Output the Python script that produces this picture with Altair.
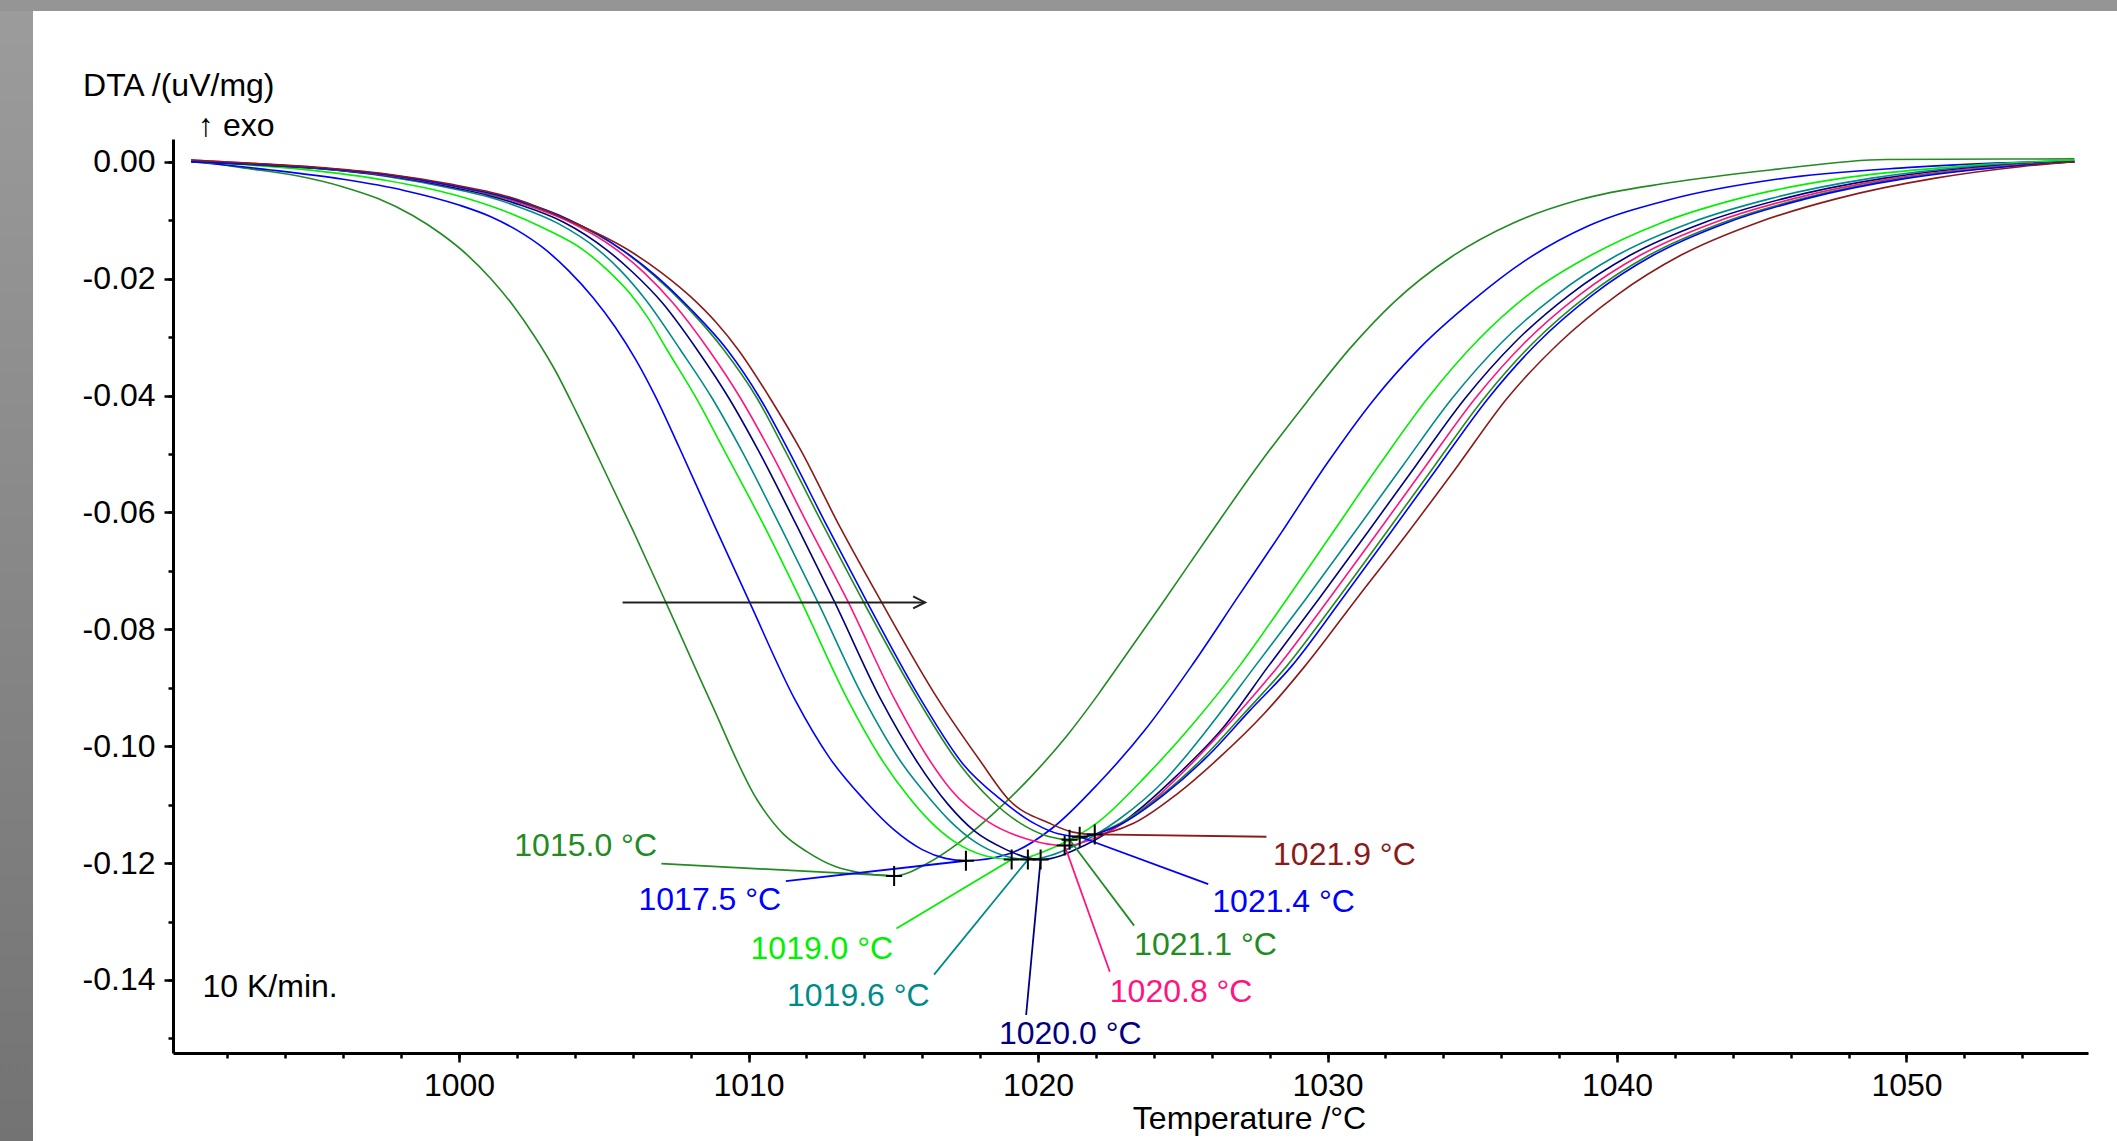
import altair as alt
import pandas as pd

FONT = "Liberation Sans"
FS = 32

# ---------------- data ----------------
SERIES = ["1015.0 °C", "1017.5 °C", "1019.0 °C", "1019.6 °C", "1020.0 °C",
          "1020.8 °C", "1021.1 °C", "1021.4 °C", "1021.9 °C"]
COLORS = ["#228B22", "#0000FF", "#00F000", "#008B8B", "#000080",
          "#FF1480", "#228B22", "#0000FF", "#8B1A1A"]

T_1015_0 = [990.75, 992.5, 994.4, 996.0, 997.2, 998.4, 999.4, 1000.3, 1001.1, 1001.9, 1002.6,
            1003.3, 1004.05, 1004.8, 1006.0, 1007.2, 1008.7, 1010.3, 1011.2, 1012.0, 1013.0, 1013.9,
            1015.0, 1016.2, 1017.0, 1018.4, 1019.8, 1021.0, 1022.1, 1022.7, 1024.3, 1025.9, 1027.6,
            1029.3, 1030.8, 1032.3, 1034.3, 1036.4, 1038.7, 1041.8, 1045.3, 1049.3, 1055.8]
D_1015_0 = [0.0003, -0.0010, -0.0024, -0.0043, -0.0063, -0.0092, -0.0124, -0.0160, -0.0200, -0.0248, -0.0298,
            -0.0355, -0.0428, -0.0505, -0.0630, -0.0760, -0.0925, -0.1092, -0.1150, -0.1180, -0.1206, -0.1217,
            -0.1222, -0.1200, -0.1175, -0.1118, -0.1050, -0.0982, -0.0910, -0.0868, -0.0755, -0.0640, -0.0520,
            -0.0410, -0.0318, -0.0240, -0.0162, -0.0105, -0.0065, -0.0036, -0.0014, 0.0004, 0.0005]

T_1017_5 = [990.75, 993.5, 996.0, 998.1, 1000.0, 1001.1, 1002.0, 1002.9, 1003.8, 1004.64, 1005.4,
            1006.1, 1006.8, 1007.6, 1008.8, 1010.04, 1011.6, 1012.8, 1014.0, 1015.0, 1016.0, 1016.8,
            1017.5, 1019.0, 1020.5, 1022.1, 1023.7, 1025.3, 1026.9, 1028.4, 1030.0, 1031.6, 1033.2,
            1035.0, 1036.8, 1039.0, 1041.8, 1045.5, 1050.0, 1055.8]
D_1017_5 = [0.0000, -0.0014, -0.0030, -0.0049, -0.0074, -0.0094, -0.0117, -0.0147, -0.0187, -0.0233, -0.0283,
            -0.0338, -0.0403, -0.0488, -0.0620, -0.0754, -0.0920, -0.1020, -0.1092, -0.1142, -0.1177, -0.1192,
            -0.1196, -0.1184, -0.1140, -0.1063, -0.0972, -0.0863, -0.0745, -0.0635, -0.0515, -0.0407, -0.0318,
            -0.0238, -0.0170, -0.0110, -0.0065, -0.0030, -0.0010, 0.0002]

T_1019_0 = [990.75, 994.6, 997.5, 999.8, 1001.5, 1002.9, 1004.3, 1005.1, 1005.9, 1006.5, 1007.19,
            1008.2, 1009.15, 1010.55, 1011.84, 1013.42, 1014.5, 1015.5, 1016.3, 1017.1, 1018.2, 1019.1,
            1020.6, 1022.1, 1023.75, 1025.3, 1027.0, 1028.6, 1030.2, 1031.8, 1033.5, 1035.2, 1037.0,
            1039.1, 1041.5, 1044.2, 1047.8, 1051.5, 1055.8]
D_1019_0 = [0.0000, -0.0013, -0.0032, -0.0056, -0.0083, -0.0113, -0.0151, -0.0184, -0.0225, -0.0265, -0.0322,
            -0.0405, -0.0493, -0.0624, -0.0754, -0.0920, -0.1015, -0.1085, -0.1130, -0.1163, -0.1188, -0.1194,
            -0.1172, -0.1129, -0.1050, -0.0965, -0.0860, -0.0748, -0.0633, -0.0518, -0.0402, -0.0305, -0.0225,
            -0.0160, -0.0105, -0.0063, -0.0028, -0.0009, 0.0003]

T_1019_6 = [990.75, 993.0, 995.0, 997.5, 999.8, 1001.0, 1002.0, 1003.4, 1004.82, 1005.6, 1006.4,
            1007.65, 1008.75, 1009.75, 1011.1, 1012.4, 1014.0, 1015.2, 1016.3, 1017.0, 1017.8, 1018.8,
            1019.65, 1021.2, 1022.8, 1024.4, 1025.9, 1027.5, 1029.25, 1030.95, 1032.6, 1034.3, 1036.0,
            1037.9, 1040.0, 1042.5, 1045.3, 1048.8, 1052.3, 1055.8]
D_1019_6 = [0.0000, -0.0005, -0.0011, -0.0025, -0.0046, -0.0060, -0.0076, -0.0105, -0.0151, -0.0187, -0.0233,
            -0.0322, -0.0405, -0.0493, -0.0624, -0.0754, -0.0920, -0.1022, -0.1092, -0.1130, -0.1163, -0.1187,
            -0.1194, -0.1172, -0.1125, -0.1057, -0.0968, -0.0863, -0.0748, -0.0633, -0.0520, -0.0405, -0.0310,
            -0.0228, -0.0160, -0.0105, -0.0063, -0.0028, -0.0008, 0.0000]

T_1020_0 = [990.75, 993.0, 995.0, 997.5, 999.8, 1001.0, 1002.0, 1003.6, 1005.11, 1006.0, 1007.0,
            1008.23, 1009.33, 1010.33, 1011.68, 1012.98, 1014.57, 1015.8, 1016.9, 1017.8, 1018.9, 1019.5,
            1020.09, 1021.6, 1023.2, 1024.8, 1026.4, 1027.96, 1029.7, 1031.4, 1033.05, 1034.75, 1036.45,
            1038.35, 1040.45, 1042.95, 1045.75, 1049.25, 1052.75, 1055.8]
D_1020_0 = [0.0000, -0.0005, -0.0011, -0.0024, -0.0044, -0.0057, -0.0072, -0.0103, -0.0151, -0.0189, -0.0240,
            -0.0322, -0.0405, -0.0493, -0.0624, -0.0754, -0.0920, -0.1025, -0.1100, -0.1145, -0.1177, -0.1189,
            -0.1194, -0.1170, -0.1120, -0.1050, -0.0968, -0.0863, -0.0748, -0.0633, -0.0520, -0.0405, -0.0310,
            -0.0228, -0.0160, -0.0105, -0.0063, -0.0028, -0.0008, 0.0000]

T_1020_8 = [990.75, 993.0, 995.0, 997.5, 999.8, 1001.0, 1002.0, 1003.7, 1005.46, 1006.4, 1007.4,
            1008.63, 1009.73, 1010.73, 1012.08, 1013.45, 1015.05, 1016.1, 1017.0, 1018.3, 1019.7, 1020.92,
            1022.3, 1023.8, 1025.3, 1026.8, 1028.3, 1030.05, 1031.75, 1033.4, 1035.1, 1036.8, 1038.7,
            1040.8, 1043.3, 1046.1, 1049.6, 1053.1, 1055.8]
D_1020_8 = [0.0003, -0.0003, -0.0010, -0.0023, -0.0042, -0.0055, -0.0069, -0.0100, -0.0151, -0.0190, -0.0242,
            -0.0322, -0.0405, -0.0493, -0.0624, -0.0754, -0.0920, -0.1012, -0.1075, -0.1130, -0.1160, -0.1170,
            -0.1150, -0.1100, -0.1030, -0.0950, -0.0863, -0.0748, -0.0633, -0.0520, -0.0405, -0.0310, -0.0228,
            -0.0160, -0.0105, -0.0063, -0.0028, -0.0008, 0.0000]

T_1021_1 = [990.75, 993.0, 995.0, 997.5, 999.8, 1001.0, 1002.0, 1003.8, 1005.63, 1006.7, 1007.9,
            1009.15, 1010.3, 1011.25, 1012.6, 1013.98, 1015.85, 1017.2, 1018.38, 1019.6, 1020.4, 1021.09,
            1022.5, 1024.1, 1025.6, 1027.1, 1028.59, 1030.35, 1032.05, 1033.7, 1035.4, 1037.1, 1039.0,
            1041.1, 1043.6, 1046.4, 1049.9, 1053.4, 1055.8]
D_1021_1 = [0.0002, -0.0004, -0.0010, -0.0022, -0.0041, -0.0054, -0.0067, -0.0100, -0.0151, -0.0193, -0.0250,
            -0.0322, -0.0405, -0.0493, -0.0624, -0.0754, -0.0920, -0.1025, -0.1092, -0.1138, -0.1155, -0.1160,
            -0.1140, -0.1090, -0.1025, -0.0945, -0.0863, -0.0748, -0.0633, -0.0520, -0.0405, -0.0310, -0.0228,
            -0.0160, -0.0105, -0.0063, -0.0028, -0.0008, 0.0000]

T_1021_4 = [990.75, 993.0, 995.0, 997.5, 999.8, 1001.0, 1002.0, 1003.8, 1005.65, 1006.75, 1008.0,
            1009.27, 1010.4, 1011.37, 1012.72, 1014.1, 1015.95, 1017.4, 1018.73, 1019.9, 1020.7, 1021.44,
            1022.8, 1024.3, 1025.8, 1027.3, 1028.76, 1030.5, 1032.2, 1033.85, 1035.55, 1037.25, 1039.15,
            1041.25, 1043.75, 1046.55, 1050.05, 1053.55, 1055.8]
D_1021_4 = [0.0000, -0.0004, -0.0010, -0.0022, -0.0041, -0.0053, -0.0066, -0.0099, -0.0151, -0.0193, -0.0252,
            -0.0322, -0.0405, -0.0493, -0.0624, -0.0754, -0.0920, -0.1030, -0.1092, -0.1133, -0.1150, -0.1155,
            -0.1135, -0.1085, -0.1020, -0.0940, -0.0863, -0.0748, -0.0633, -0.0520, -0.0405, -0.0310, -0.0228,
            -0.0160, -0.0105, -0.0063, -0.0028, -0.0008, 0.0000]

T_1021_9 = [990.75, 993.0, 995.0, 997.5, 999.8, 1001.0, 1002.0, 1003.5, 1005.85, 1007.0, 1007.98,
            1008.9, 1009.65, 1010.75, 1011.8, 1013.15, 1014.6, 1016.55, 1018.0, 1019.0, 1020.4, 1021.2,
            1021.96, 1023.3, 1024.8, 1026.3, 1027.8, 1029.22, 1031.0, 1032.8, 1034.5, 1036.2, 1038.0,
            1040.0, 1042.2, 1044.8, 1047.6, 1051.0, 1054.0, 1055.8]
D_1021_9 = [0.0003, -0.0003, -0.0009, -0.0021, -0.0039, -0.0051, -0.0064, -0.0094, -0.0151, -0.0190, -0.0230,
            -0.0276, -0.0322, -0.0405, -0.0493, -0.0624, -0.0754, -0.0920, -0.1025, -0.1092, -0.1132, -0.1147,
            -0.1151, -0.1132, -0.1082, -0.1018, -0.0945, -0.0863, -0.0748, -0.0633, -0.0520, -0.0405, -0.0310,
            -0.0228, -0.0160, -0.0105, -0.0063, -0.0028, -0.0008, 0.0000]

CURVES_T = [T_1015_0, T_1017_5, T_1019_0, T_1019_6, T_1020_0, T_1020_8, T_1021_1, T_1021_4, T_1021_9]
CURVES_D = [D_1015_0, D_1017_5, D_1019_0, D_1019_6, D_1020_0, D_1020_8, D_1021_1, D_1021_4, D_1021_9]

# peak markers, label anchors, leader-line starts
PEAK_T = [1015.03, 1017.51, 1019.09, 1019.65, 1020.09, 1020.92, 1021.09, 1021.44, 1021.96]
PEAK_DTA = [-0.1222, -0.1196, -0.1194, -0.1194, -0.1194, -0.1170, -0.1160, -0.1155, -0.1151]
LABEL_T = [1001.91, 1006.20, 1010.07, 1011.33, 1018.65, 1022.48, 1023.32, 1026.02, 1028.12]
LABEL_DTA = [-0.1171, -0.1264, -0.1347, -0.1428, -0.1492, -0.1421, -0.1340, -0.1266, -0.1187]
LEADER_T = [1006.99, 1011.29, 1015.11, 1016.41, 1019.59, 1022.48, 1023.32, 1025.88, 1027.89]
LEADER_DTA = [-0.1201, -0.1231, -0.1312, -0.1391, -0.1460, -0.1386, -0.1307, -0.1236, -0.1155]

ARROW_T = [1005.65, 1016.10]
ARROW_DTA = -0.0754
RATE_TEXT = "10 K/min."
RATE_T = 991.14
RATE_DTA = -0.1412

X_DOMAIN = [990.12, 1056.27]
Y_DOMAIN = [-0.1525, 0.0039]
X_MAJOR_TICKS = [1000, 1010, 1020, 1030, 1040, 1050]
X_MINOR_TICKS = [992, 994, 996, 998, 1000, 1002, 1004, 1006, 1008, 1010, 1012, 1014, 1016, 1018,
                 1020, 1022, 1024, 1026, 1028, 1030, 1032, 1034, 1036, 1038, 1040, 1042, 1044,
                 1046, 1048, 1050, 1052, 1054]
Y_MAJOR_TICKS = [0.0, -0.02, -0.04, -0.06, -0.08, -0.10, -0.12, -0.14]
Y_MINOR_TICKS = [0.0, -0.01, -0.02, -0.03, -0.04, -0.05, -0.06, -0.07, -0.08, -0.09, -0.10,
                 -0.11, -0.12, -0.13, -0.14, -0.15]

# ---------------- tables ----------------
rows = []
for name, ts, ds in zip(SERIES, CURVES_T, CURVES_D):
    assert len(ts) == len(ds), name
    for i, (t, d) in enumerate(zip(ts, ds)):
        rows.append({"series": name, "T": t, "DTA": d, "i": i})
curves_df = pd.DataFrame(rows)

ann_df = pd.DataFrame({
    "series": SERIES, "peakT": PEAK_T, "peakD": PEAK_DTA,
    "labT": LABEL_T, "labD": LABEL_DTA, "leadT": LEADER_T, "leadD": LEADER_DTA,
})
arrow_df = pd.DataFrame({"T0": [ARROW_T[0]], "T1": [ARROW_T[1]], "D": [ARROW_DTA]})
rate_df = pd.DataFrame({"T": [RATE_T], "D": [RATE_DTA], "txt": [RATE_TEXT]})
one_df = pd.DataFrame({"k": [0]})

W, H = 1915, 914
PAD = {"left": 173, "top": 139, "right": 29, "bottom": 88}

XS = alt.Scale(domain=X_DOMAIN, nice=False, zero=False)
YS = alt.Scale(domain=Y_DOMAIN, nice=False, zero=False)
COLOR = alt.Color("series:N", scale=alt.Scale(domain=SERIES, range=COLORS), legend=None)

X_MAJOR = alt.Axis(orient="bottom", values=X_MAJOR_TICKS, format="d", tickSize=9, tickWidth=2.5,
                   tickColor="black", domainColor="black", domainWidth=3, grid=False,
                   labelFont=FONT, labelFontSize=FS, labelColor="black", labelPadding=8,
                   labelFlush=False, labelOverlap=False,
                   title="Temperature /°C", titleFont=FONT, titleFontSize=FS, titleFontWeight="normal",
                   titleColor="black", titleX=1076, titleY=65, titleAlign="center", titleBaseline="middle")
Y_MAJOR = alt.Axis(orient="left", values=Y_MAJOR_TICKS, tickSize=9, tickWidth=2.5,
                   labelExpr="(datum.value < -0.0001 ? '-' : '') + format(abs(datum.value), '.2f')",
                   tickColor="black", domainColor="black", domainWidth=3, grid=False,
                   labelFont=FONT, labelFontSize=FS, labelColor="black", labelPadding=9,
                   labelFlush=False, labelOverlap=False,
                   title=["DTA /(uV/mg)", "↑ exo"], titleFont=FONT, titleFontSize=FS,
                   titleFontWeight="normal", titleColor="black", titleAngle=0, titleAlign="right",
                   titleBaseline="top", titleX=101, titleY=-69, titleLineHeight=40)
X_MINOR = alt.Axis(orient="bottom", values=X_MINOR_TICKS, tickSize=5, tickWidth=2.5, tickColor="black",
                   domain=False, labels=False, grid=False, title=None)
Y_MINOR = alt.Axis(orient="left", values=Y_MINOR_TICKS, tickSize=5, tickWidth=2.5, tickColor="black",
                   domain=False, labels=False, grid=False, title=None)

# screenshot frame (decoration)
frame_left = alt.Chart(one_df).mark_rect(
    color=alt.LinearGradient(gradient="linear",
                             stops=[alt.GradientStop(color="#9c9c9c", offset=0),
                                    alt.GradientStop(color="#737373", offset=1)],
                             x1=0, x2=0, y1=0, y2=1)
).encode(x=alt.value(-PAD["left"]), x2=alt.value(-PAD["left"] + 33),
         y=alt.value(-PAD["top"]), y2=alt.value(H + PAD["bottom"]))
frame_top = alt.Chart(one_df).mark_rect(color="#959595").encode(
    x=alt.value(-PAD["left"]), x2=alt.value(W + PAD["right"]),
    y=alt.value(-PAD["top"]), y2=alt.value(-PAD["top"] + 11))

curves = alt.Chart(curves_df).mark_line(strokeWidth=1.6, interpolate="monotone").encode(
    x=alt.X("T:Q", scale=XS, axis=X_MAJOR),
    y=alt.Y("DTA:Q", scale=YS, axis=Y_MAJOR),
    color=COLOR, order="i:Q")

leaders = alt.Chart(ann_df).mark_rule(strokeWidth=1.8).encode(
    x=alt.X("leadT:Q", scale=XS, axis=None), y=alt.Y("leadD:Q", scale=YS, axis=None),
    x2="peakT:Q", y2="peakD:Q", color=COLOR)

markers = alt.Chart(ann_df).mark_point(
    shape="M -0.8 0 L 0.8 0 M 0 -1 L 0 1", size=400, filled=False, color="black",
    strokeWidth=2, opacity=1).encode(
    x=alt.X("peakT:Q", scale=XS, axis=None), y=alt.Y("peakD:Q", scale=YS, axis=None))

labels = alt.Chart(ann_df).mark_text(align="left", baseline="middle", font=FONT, fontSize=FS).encode(
    x=alt.X("labT:Q", scale=XS, axis=None), y=alt.Y("labD:Q", scale=YS, axis=None),
    text="series:N", color=COLOR)

arrow_line = alt.Chart(arrow_df).mark_rule(color="#222222", strokeWidth=2).encode(
    x=alt.X("T0:Q", scale=XS, axis=None), x2="T1:Q", y=alt.Y("D:Q", scale=YS, axis=None))
arrow_head = alt.Chart(arrow_df).mark_point(
    shape="M -1 -0.5 L 0 0 L -1 0.5", size=576, filled=False, color="#222222",
    strokeWidth=2, opacity=1).encode(
    x=alt.X("T1:Q", scale=XS, axis=None), y=alt.Y("D:Q", scale=YS, axis=None))

rate = alt.Chart(rate_df).mark_text(align="left", baseline="middle", font=FONT, fontSize=FS,
                                    color="black").encode(
    x=alt.X("T:Q", scale=XS, axis=None), y=alt.Y("D:Q", scale=YS, axis=None), text="txt:N")

minor = alt.Chart(ann_df).mark_point(opacity=0).encode(
    x=alt.X("peakT:Q", scale=XS, axis=X_MINOR), y=alt.Y("peakD:Q", scale=YS, axis=Y_MINOR))

chart = alt.layer(
    frame_left, frame_top, curves, leaders, markers, labels, arrow_line, arrow_head, rate, minor
).resolve_axis(x="independent", y="independent").properties(
    width=W, height=H,
    autosize=alt.AutoSizeParams(type="none"),
    padding=PAD,
    background="white",
).configure_view(strokeWidth=0)

chart.save("out.html", embed_options={"renderer": "svg", "actions": False})
